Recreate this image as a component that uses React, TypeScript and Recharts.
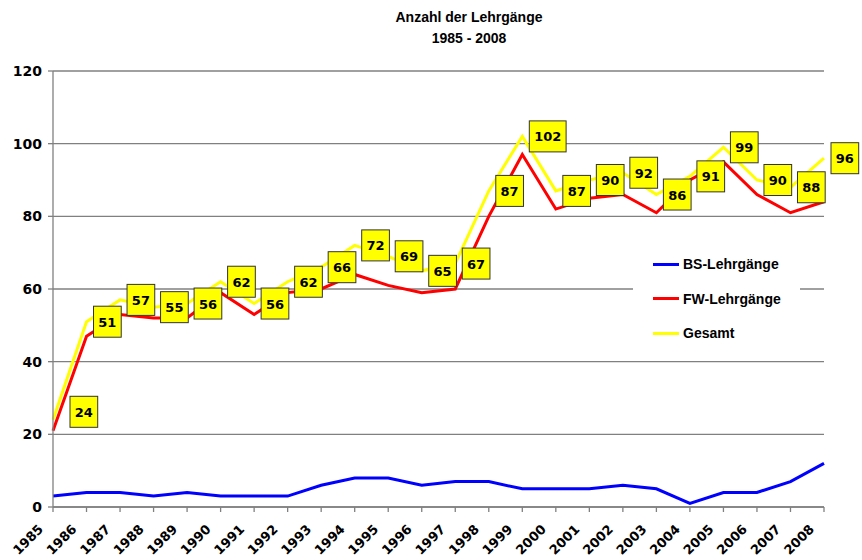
import { LineChart, Line, XAxis, YAxis, CartesianGrid, Legend, LabelList } from "recharts";

// Anzahl der Lehrgänge 1985 - 2008
const years = [
  "1985", "1986", "1987", "1988", "1989", "1990", "1991", "1992",
  "1993", "1994", "1995", "1996", "1997", "1998", "1999", "2000",
  "2001", "2002", "2003", "2004", "2005", "2006", "2007", "2008",
];
const bsLehrgaenge = [3, 4, 4, 3, 4, 3, 3, 3, 6, 8, 8, 6, 7, 7, 5, 5, 5, 6, 5, 1, 4, 4, 7, 12];
const fwLehrgaenge = [21, 47, 53, 52, 52, 59, 53, 59, 60, 64, 61, 59, 60, 80, 97, 82, 85, 86, 81, 90, 95, 86, 81, 84];
const gesamt = [24, 51, 57, 55, 56, 62, 56, 62, 66, 72, 69, 65, 67, 87, 102, 87, 90, 92, 86, 91, 99, 90, 88, 96];
const yTicks = [0, 20, 40, 60, 80, 100, 120];

const SERIES = [
  { key: "bs", name: "BS-Lehrgänge", color: "#0000FF" },
  { key: "fw", name: "FW-Lehrgänge", color: "#FF0000" },
  { key: "gesamt", name: "Gesamt", color: "#FFFF00" },
];

const data = years.map((year, i) => ({
  year,
  bs: bsLehrgaenge[i],
  fw: fwLehrgaenge[i],
  gesamt: gesamt[i],
}));

const NUM_FONT = "DejaVu Sans, Verdana, sans-serif";
const TEXT_FONT = "Liberation Sans, Arial, sans-serif";

function YearTick(props: any) {
  const { x, y, payload } = props;
  const ax = x - 9;
  const ay = y + 16;
  return (
    <text
      x={ax}
      y={ay}
      textAnchor="end"
      transform={`rotate(-45, ${ax}, ${ay})`}
      fontFamily={NUM_FONT}
      fontWeight="bold"
      fontSize={13}
      fill="#000"
    >
      {payload.value}
    </text>
  );
}

// yellow boxes with the Gesamt values
function ValueBox(props: any) {
  const { x, y, value, index } = props;
  const text = String(value);
  const w = text.length * 9.1 + 9.5;
  const h = 31;
  // first box sits a bit off in the original
  const left = index === 0 ? x + 17 : x + 7;
  const cy = index === 0 ? y - 8 : y;
  return (
    <g>
      <rect x={left} y={cy - h / 2} width={w} height={h} fill="#FFFF00" stroke="#333" strokeWidth={1} />
      <text
        x={left + w / 2}
        y={cy + 5}
        textAnchor="middle"
        fontFamily={NUM_FONT}
        fontWeight="bold"
        fontSize={13}
        fill="#000"
      >
        {text}
      </text>
    </g>
  );
}

function LegendBox() {
  return (
    <div style={{ position: "relative", width: 167, height: 102, background: "#fff" }}>
      {SERIES.map((s, i) => (
        <div
          key={s.key}
          style={{
            position: "absolute",
            left: 20,
            top: 16 + i * 34.5 - 10,
            height: 20,
            display: "flex",
            alignItems: "center",
            fontFamily: TEXT_FONT,
            fontWeight: "bold",
            fontSize: 14,
            color: "#000",
            whiteSpace: "nowrap",
          }}
        >
          <span style={{ display: "inline-block", width: 26, height: 3, background: s.color, marginRight: 4 }} />
          {s.name}
        </div>
      ))}
    </div>
  );
}

export default function App() {
  return (
    <div style={{ position: "absolute", left: 0, top: 0, width: 862, height: 560, background: "#fff" }}>
      <div
        style={{
          position: "absolute",
          left: 269,
          top: 6.5,
          width: 400,
          textAlign: "center",
          fontFamily: TEXT_FONT,
          fontWeight: "bold",
          fontSize: 14,
          lineHeight: "21px",
          color: "#000",
        }}
      >
        Anzahl der Lehrgänge
        <br />
        1985 - 2008
      </div>
      <LineChart
        width={862}
        height={560}
        data={data}
        margin={{ top: 71, right: 38, left: 0, bottom: 0 }}
      >
        <CartesianGrid vertical={false} stroke="#808080" strokeWidth={1.3} />
        <XAxis
          dataKey="year"
          interval={0}
          height={53}
          stroke="#808080"
          strokeWidth={1.3}
          tickSize={5}
          tick={<YearTick />}
        />
        <YAxis
          domain={[0, 120]}
          ticks={yTicks}
          width={53}
          stroke="#808080"
          strokeWidth={1.3}
          tickSize={5}
          tickMargin={6}
          tick={{ fontFamily: NUM_FONT, fontWeight: "bold", fontSize: 14, fill: "#000" }}
        />
        <Legend
          layout="vertical"
          align="center"
          verticalAlign="middle"
          content={<LegendBox />}
          wrapperStyle={{ left: 633, top: 248, width: 167, height: 102 }}
        />
        {SERIES.map((s) => (
          <Line
            key={s.key}
            type="linear"
            dataKey={s.key}
            name={s.name}
            stroke={s.color}
            strokeWidth={3}
            dot={false}
            activeDot={false}
            isAnimationActive={false}
          >
            {s.key === "gesamt" && <LabelList dataKey="gesamt" content={<ValueBox />} />}
          </Line>
        ))}
      </LineChart>
    </div>
  );
}
